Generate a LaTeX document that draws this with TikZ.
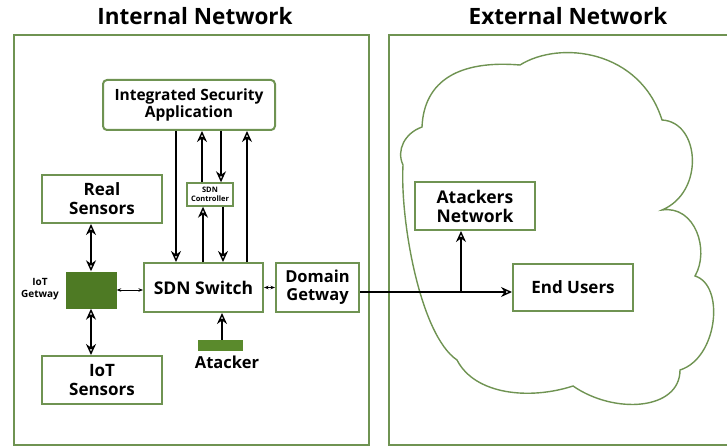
\documentclass[tikz,border=0pt]{standalone}
\usepackage{fontspec}
\setmainfont{Open Sans}
\usetikzlibrary{arrows.meta}
\definecolor{frame}{HTML}{6F9352}
\definecolor{darkgreen}{HTML}{4E7A24}
\definecolor{bargreen}{HTML}{5A8A2C}
\tikzset{
  box/.style={draw=frame, line width=2pt, fill=white, inner sep=0pt, align=center, font=\bfseries\fontsize{17}{19}\selectfont},
  region/.style={draw=frame, line width=2pt},
  head/.style={Stealth[open,length=11pt,width=10pt,line width=1.4pt]},
  link/.style={line width=2.2pt, -{Stealth[open,length=11pt,width=10pt,line width=1.4pt]}},
  biglink/.style={line width=2.2pt, {Stealth[open,length=11pt,width=10pt,line width=1.4pt]}-{Stealth[open,length=11pt,width=10pt,line width=1.4pt]}},
  tiny/.style={line width=0.7pt, {Stealth[length=4.5pt,width=3.5pt]}-{Stealth[length=4.5pt,width=3.5pt]}},
  title/.style={font=\bfseries\fontsize{22.5}{26}\selectfont}
}
\begin{document}
\begin{tikzpicture}[x=1pt, y=-1pt]
\useasboundingbox (0,0) rectangle (727,446);
% network areas
\node[region, minimum width=355pt, minimum height=410pt, anchor=north west] (internal) at (13,34) {};
\node[region, minimum width=345pt, minimum height=410pt, anchor=north west] (external) at (388,34) {};
\node[title] (tin) at (195,16) {Internal Network};
\node[title] (tex) at (568,16) {External Network};
% cloud
\draw[frame, line width=1.4pt]
  (422,127) .. controls (424,80) and (460,60) .. (520,65)
  .. controls (560,40) and (640,50) .. (662,120)
  .. controls (700,122) and (705,192) .. (662,210)
  .. controls (695,205) and (710,250) .. (695,276)
  .. controls (725,285) and (718,358) .. (680,370)
  .. controls (680,410) and (615,415) .. (573,386)
  .. controls (530,400) and (475,395) .. (457,360)
  .. controls (420,335) and (400,220) .. (403,165)
  .. controls (396,150) and (405,133) .. (422,127) -- cycle;
% internal nodes
\node[box, rounded corners=4pt, minimum width=172pt, minimum height=50pt, font=\bfseries\fontsize{15.5}{17}\selectfont] (isa) at (189,105) {Integrated Security\\Application};
\node[box, minimum width=46pt, minimum height=23pt, font=\bfseries\fontsize{7.5}{8.5}\selectfont, line width=1.4pt] (ctrl) at (210,194.5) {SDN\\Controller};
\node[box, minimum width=119pt, minimum height=49pt, font=\bfseries\fontsize{17.5}{20}\selectfont] (sw) at (203.5,287.5) {SDN Switch};
\node[box, minimum width=83pt, minimum height=49pt, font=\bfseries\fontsize{16.5}{18}\selectfont] (dg) at (317.5,287.5) {Domain\\Getway};
\node[box, minimum width=120pt, minimum height=48pt] (rs) at (102,199) {Real\\Sensors};
\node[box, minimum width=120pt, minimum height=48pt] (ios) at (102,380) {IoT\\Sensors};
\node[fill=darkgreen, minimum width=51pt, minimum height=37pt, inner sep=0pt] (gw) at (91,290) {};
\node[align=center, font=\bfseries\fontsize{10}{12}\selectfont] (gwl) at (40,289) {IoT\\Getway};
\node[fill=bargreen, minimum width=45pt, minimum height=11pt, inner sep=0pt] (att) at (220.5,345.5) {};
\node[font=\bfseries\fontsize{16.5}{18}\selectfont] (attl) at (227,362) {Atacker};
% external nodes
\node[box, minimum width=120pt, minimum height=48pt, font=\bfseries\fontsize{17.5}{19}\selectfont] (an) at (475,206) {Atackers\\Network};
\node[box, minimum width=120pt, minimum height=47pt] (eu) at (573,287.5) {End Users};
% application <-> switch <-> controller
\draw[link] (isa.south -| 176,0) -- (sw.north -| 176,0);
\draw[link] (ctrl.north -| 202,0) -- (isa.south -| 202,0);
\draw[link] (isa.south -| 221,0) -- (ctrl.north -| 221,0);
\draw[link, line width=2.8pt] (sw.north -| 247,0) -- (isa.south -| 247,0);
\draw[link] (sw.north -| 203,0) -- (ctrl.south -| 203,0);
\draw[link] (ctrl.south -| 223,0) -- (sw.north -| 223,0);
% sensors and gateway
\draw[biglink] (rs.south -| gw.north) -- (gw.north);
\draw[biglink] (gw.south) -- (ios.north -| gw.south);
\draw[tiny] (gw.east) -- (sw.west |- gw.east);
\draw[tiny] (sw.east) -- (dg.west);
% attacker
\draw[link, line width=1.6pt] (att.north -| 222,0) -- (sw.south -| 222,0);
% outbound traffic
\coordinate (br) at (461,292);
\draw[link] (dg.east |- br) -- (eu.west |- br);
\draw[link] (br) -- (an.south -| br);
\end{tikzpicture}
\end{document}
